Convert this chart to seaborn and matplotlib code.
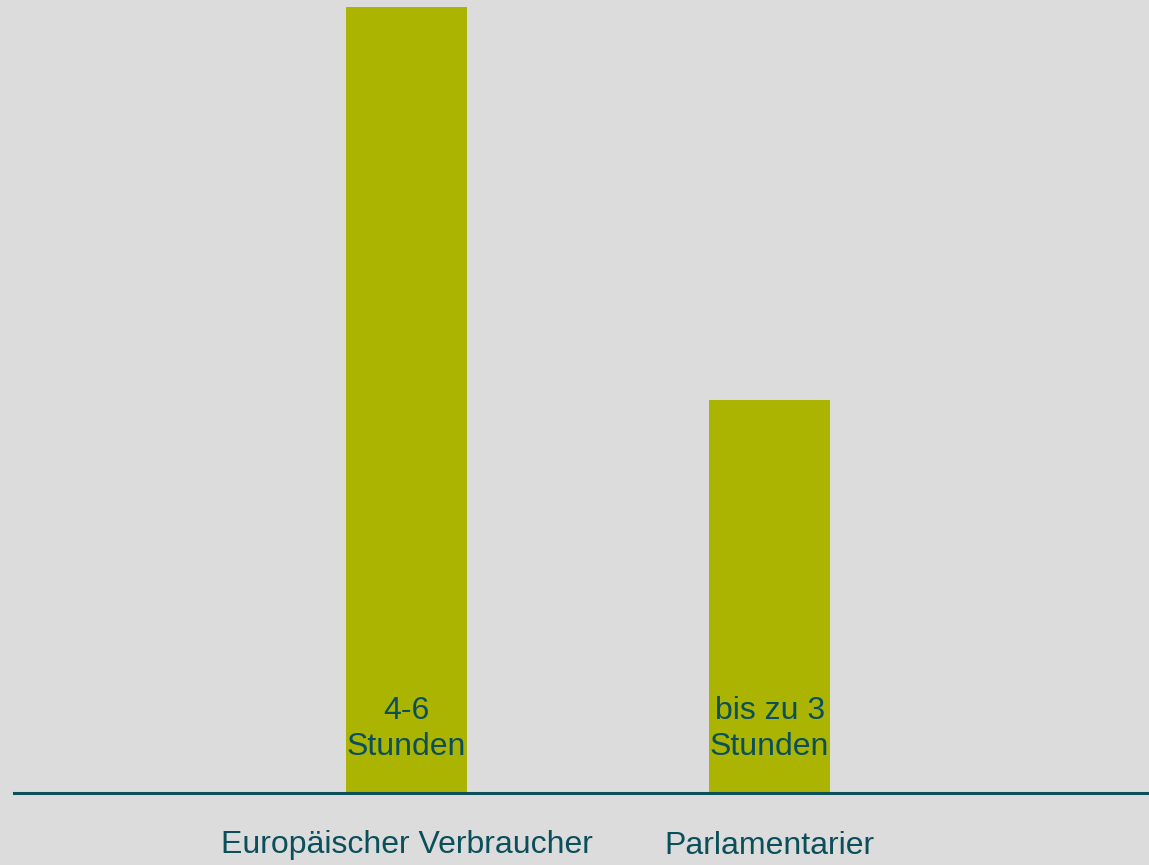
import matplotlib
matplotlib.use("Agg")
import matplotlib.pyplot as plt
import seaborn as sns
import pandas as pd

categories = ["Europäischer Verbraucher", "Parlamentarier"]
values = [6, 3]
bar_labels = ["4-6\nStunden", "bis zu 3\nStunden"]

BG = "#DCDCDC"
BAR = "#ABB400"
TXT = "#0B4F5A"

sns.set_theme(style="white")
plt.rcParams['font.family'] = ['Liberation Sans', 'DejaVu Sans']

fig = plt.figure(figsize=(11.49, 8.65), dpi=100, facecolor=BG)
ax = fig.add_axes([14/1149, 1 - 793/865, 1 - 14/1149, (793 - 7)/865])
ax.set_facecolor(BG)

df = pd.DataFrame({"cat": categories, "val": values})
sns.barplot(data=df, x="cat", y="val", color=BAR, width=0.333, saturation=1,
            linewidth=0, edgecolor="none", ax=ax)

ax.set_xlim(-1.081, 2.045)
ax.set_ylim(0, 6)
for s in ["top", "right", "left"]:
    ax.spines[s].set_visible(False)
ax.spines["bottom"].set_color(TXT)
ax.spines["bottom"].set_linewidth(2.2)
ax.set_yticks([])
ax.set_xlabel("")
ax.set_ylabel("")
ax.tick_params(axis="x", length=0, pad=27, labelsize=23, labelcolor=TXT)

for i, lab in enumerate(bar_labels):
    ax.annotate(lab, xy=(i, 0), xytext=(0, 22), textcoords="offset points",
                ha="center", va="bottom", fontsize=23, color=TXT,
                linespacing=1.3)

fig.savefig("out.png", dpi=100, facecolor=BG)
